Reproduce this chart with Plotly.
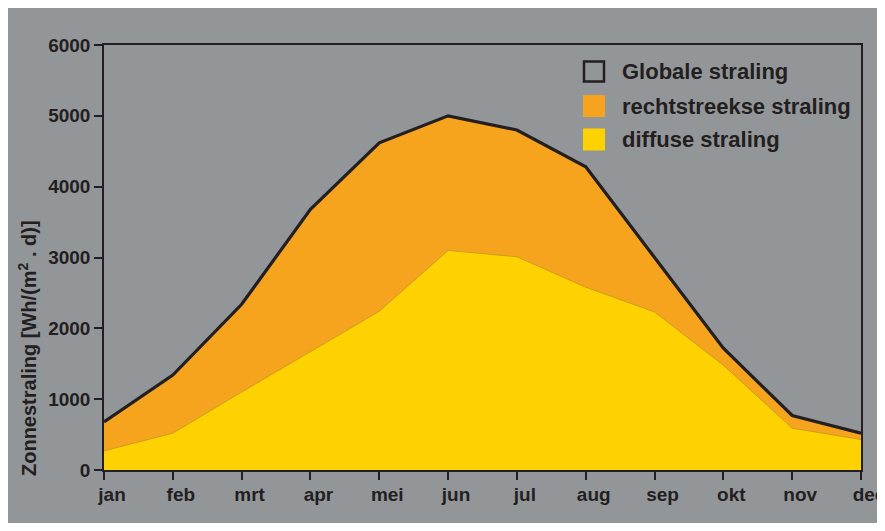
'''
Zonnestraling per maand: diffuse en rechtstreekse straling als gestapeld vlak
'''
import plotly.graph_objects as go

months = ['jan', 'feb', 'mrt', 'apr', 'mei', 'jun',
          'jul', 'aug', 'sep', 'okt', 'nov', 'dec']
# Wh/(m2.d)
globale = [680, 1340, 2340, 3680, 4620, 5000, 4800, 4280, 3000, 1720, 770, 520]
diffuse = [270, 520, 1100, 1670, 2240, 3100, 3010, 2580, 2230, 1480, 590, 430]
legend_labels = ['Globale straling', 'rechtstreekse straling', 'diffuse straling']

INK = '#231f20'
PANEL = '#939699'
ORANGE = '#f6a31e'
YELLOW = '#fdd200'
FONT = 'Liberation Sans, Arial, Helvetica, sans-serif'

# the page puts the figure 8px in from the top-left corner
OFF = 8
W, H = 885 - OFF, 531 - 2 * OFF
# plot area in page pixels (as measured on the reference)
L, R, T, B = 104, 861, 45, 470


def px_x(x):
    return (x - L) / (R - L)


def px_y(y):
    return (B - y) / (B - T)


fig = go.Figure()
fig.add_trace(go.Scatter(
    x=months, y=diffuse, name=legend_labels[2], mode='lines',
    line=dict(color='#c99a1a', width=0.7), fill='tozeroy', fillcolor=YELLOW,
    showlegend=False))
fig.add_trace(go.Scatter(
    x=months, y=globale, name=legend_labels[0], mode='lines',
    line=dict(color=INK, width=3.2), fill='tonexty', fillcolor=ORANGE,
    showlegend=False))

shapes = []
annotations = []

# hand-made legend with big square keys
key_rows = [71.5, 106, 139.5]
key_fill = [None, ORANGE, YELLOW]
for label, cy, fill in zip(legend_labels, key_rows, key_fill):
    if fill is None:
        shapes.append(dict(type='rect', xref='paper', yref='paper',
                           x0=px_x(584), x1=px_x(604), y0=px_y(cy + 10), y1=px_y(cy - 10),
                           fillcolor='rgba(0,0,0,0)', line=dict(color=INK, width=2.5)))
    else:
        shapes.append(dict(type='rect', xref='paper', yref='paper',
                           x0=px_x(583), x1=px_x(605), y0=px_y(cy + 11), y1=px_y(cy - 11),
                           fillcolor=fill, line=dict(width=0)))
    annotations.append(dict(xref='paper', yref='paper', x=px_x(620), y=px_y(cy),
                            xanchor='left', yanchor='middle', showarrow=False,
                            text='<b>%s</b>' % label,
                            font=dict(family=FONT, size=22, color=INK)))

# y axis title, sits low on the axis like in the original
annotations.append(dict(xref='paper', yref='paper', x=px_x(27), y=px_y(348),
                        xanchor='center', yanchor='middle', showarrow=False,
                        textangle=-90,
                        text='<b>Zonnestraling [Wh/(m<sup>2</sup> . d)]</b>',
                        font=dict(family=FONT, size=20, color=INK)))

fig.update_layout(
    width=W, height=H,
    margin=dict(l=L - OFF, r=W - (R - OFF), t=T - OFF, b=H - (B - OFF), pad=0,
                autoexpand=False),
    paper_bgcolor=PANEL, plot_bgcolor=PANEL,
    font=dict(family=FONT, size=19, color=INK),
    shapes=shapes, annotations=annotations,
    showlegend=False,
)
fig.update_xaxes(
    type='category', range=[0, 11], showgrid=False, zeroline=False,
    showline=True, mirror=True, linecolor=INK, linewidth=1.5,
    ticks='outside', ticklen=8, tickwidth=1.5, tickcolor=INK,
    tickfont=dict(family=FONT, size=19, color=INK, weight='bold'),
    ticklabelshift=8, ticklabelstandoff=-2, automargin=False,
)
fig.update_yaxes(
    range=[0, 6000], dtick=1000, showgrid=False, zeroline=False,
    showline=True, mirror=True, linecolor=INK, linewidth=1.5,
    ticks='outside', ticklen=8, tickwidth=1.5, tickcolor=INK,
    tickfont=dict(family=FONT, size=19, color=INK, weight='bold'),
    ticklabelstandoff=0, automargin=False,
)

fig.write_html('out.html')
